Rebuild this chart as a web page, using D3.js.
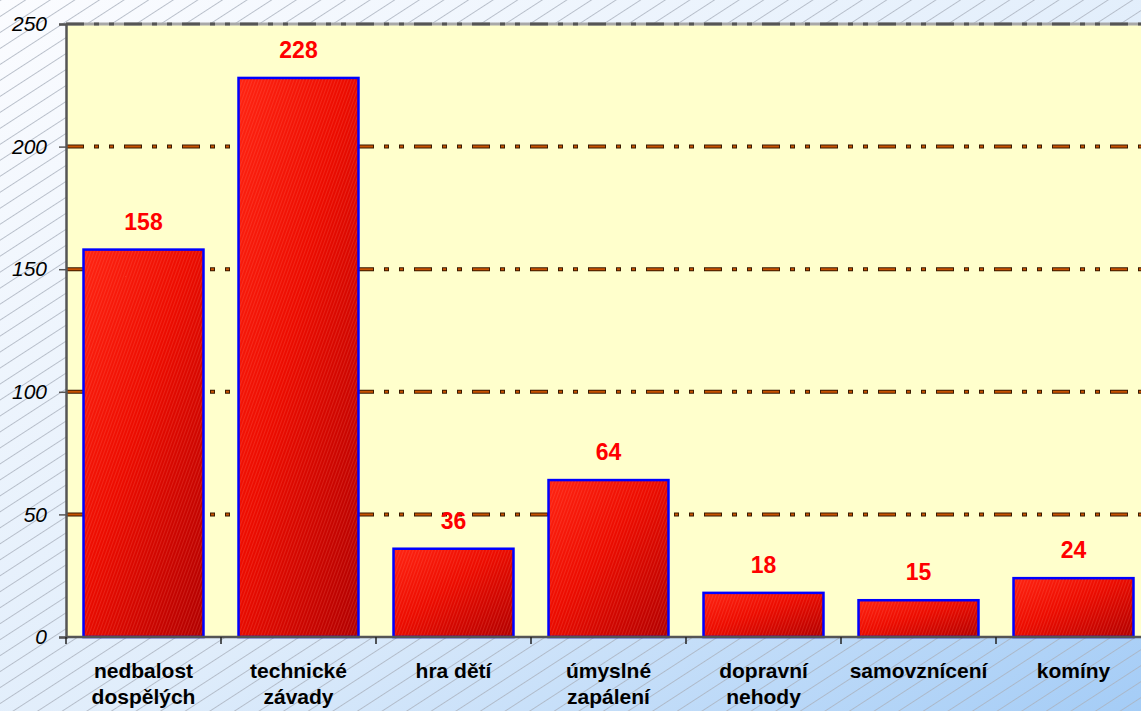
<!DOCTYPE html>
<html>
<head>
<meta charset="utf-8">
<script src="https://cdn.jsdelivr.net/npm/d3@7"></script>
<style>
  body { margin: 0; overflow: hidden; }
  svg { display: block; }
</style>
</head>
<body>
<div id="chart"></div>
<script>
// categories, split over two lines like in the original
var categories = [
  ['nedbalost', 'dospělých'],
  ['technické', 'závady'],
  ['hra dětí'],
  ['úmyslné', 'zapálení'],
  ['dopravní', 'nehody'],
  ['samovznícení'],
  ['komíny']
];
var values = [158, 228, 36, 64, 18, 15, 24];
var yTicks = [0, 50, 100, 150, 200, 250];

var W = 1141, H = 711;
var margin = { top: 24, left: 66 },
  plotW = 1085,
  plotH = 613;

var svg = d3.select('#chart').append('svg')
  .attr('width', W)
  .attr('height', H);

var defs = svg.append('defs');

// page background: soft diagonal gradient + thin hatching
var bg = defs.append('linearGradient').attr('id', 'bgGrad')
  .attr('x1', 0).attr('y1', 0).attr('x2', 1).attr('y2', 1);
bg.append('stop').attr('offset', '0%').attr('stop-color', '#fbfcff');
bg.append('stop').attr('offset', '55%').attr('stop-color', '#e0edfb');
bg.append('stop').attr('offset', '100%').attr('stop-color', '#a4ccf6');

var hatch = defs.append('pattern').attr('id', 'hatch')
  .attr('patternUnits', 'userSpaceOnUse')
  .attr('width', 10).attr('height', 13.4)
  .attr('patternTransform', 'rotate(-33)');
hatch.append('line')
  .attr('x1', 0).attr('x2', 10).attr('y1', 0.5).attr('y2', 0.5)
  .attr('stroke', '#a9b1be').attr('stroke-width', 0.8);

// bar fill: red, darker toward bottom right, with fine streaks
var barGrad = defs.append('linearGradient').attr('id', 'barGrad')
  .attr('x1', 0).attr('y1', 0).attr('x2', 1).attr('y2', 1);
barGrad.append('stop').attr('offset', '0%').attr('stop-color', '#ff2412');
barGrad.append('stop').attr('offset', '45%').attr('stop-color', '#ec0c00');
barGrad.append('stop').attr('offset', '100%').attr('stop-color', '#b00000');

var streaks = defs.append('pattern').attr('id', 'streaks')
  .attr('patternUnits', 'userSpaceOnUse')
  .attr('width', 3).attr('height', 6)
  .attr('patternTransform', 'rotate(20)');
streaks.append('line')
  .attr('x1', 0.5).attr('x2', 0.5).attr('y1', 0).attr('y2', 6)
  .attr('stroke', '#ff8070').attr('stroke-opacity', 0.28).attr('stroke-width', 0.8);

svg.append('rect').attr('width', W).attr('height', H).attr('fill', 'url(#bgGrad)');
svg.append('rect').attr('width', W).attr('height', H).attr('fill', 'url(#hatch)');

// scales
var xScale = d3.scaleBand()
  .domain(d3.range(categories.length))
  .range([margin.left, margin.left + plotW])
  .paddingInner(0.226)
  .paddingOuter(0.113);

var yScale = d3.scaleLinear()
  .domain([0, 250])
  .range([margin.top + plotH, margin.top]);

// plot area
svg.append('rect')
  .attr('x', margin.left).attr('y', margin.top)
  .attr('width', plotW).attr('height', plotH)
  .attr('fill', '#ffffcc');

// gridlines, dash-dot-dot
var gridVals = yTicks.filter(function (d) { return d > 0 && d < 250; });
var grid = svg.append('g');
grid.selectAll('line.out')
  .data(gridVals)
  .enter().append('line')
  .attr('x1', margin.left).attr('x2', margin.left + plotW)
  .attr('y1', function (d) { return yScale(d); })
  .attr('y2', function (d) { return yScale(d); })
  .attr('stroke', '#3a1a00')
  .attr('stroke-width', 4)
  .attr('stroke-dasharray', '18 10 5 10 5 10');
grid.selectAll('line.in')
  .data(gridVals)
  .enter().append('line')
  .attr('x1', margin.left).attr('x2', margin.left + plotW)
  .attr('y1', function (d) { return yScale(d); })
  .attr('y2', function (d) { return yScale(d); })
  .attr('stroke', '#c85200')
  .attr('stroke-width', 2)
  .attr('stroke-dasharray', '16 12 3 12 3 12')
  .attr('stroke-dashoffset', -1);

// top border at 250: grey line with darker dashes
svg.append('line')
  .attr('x1', margin.left).attr('x2', margin.left + plotW)
  .attr('y1', yScale(250)).attr('y2', yScale(250))
  .attr('stroke', '#a8a8a8').attr('stroke-width', 3);
svg.append('line')
  .attr('x1', margin.left).attr('x2', margin.left + plotW)
  .attr('y1', yScale(250)).attr('y2', yScale(250))
  .attr('stroke', '#555').attr('stroke-width', 3)
  .attr('stroke-dasharray', '18 10 5 10 5 10');

// bars
var bars = svg.append('g');
bars.selectAll('rect.bar')
  .data(values)
  .enter().append('rect')
  .attr('x', function (d, i) { return xScale(i); })
  .attr('y', function (d) { return yScale(d); })
  .attr('width', xScale.bandwidth())
  .attr('height', function (d) { return yScale(0) - yScale(d); })
  .attr('fill', 'url(#barGrad)');
bars.selectAll('rect.tex')
  .data(values)
  .enter().append('rect')
  .attr('x', function (d, i) { return xScale(i); })
  .attr('y', function (d) { return yScale(d); })
  .attr('width', xScale.bandwidth())
  .attr('height', function (d) { return yScale(0) - yScale(d); })
  .attr('fill', 'url(#streaks)')
  .attr('stroke', '#0000ff')
  .attr('stroke-width', 2.5);

// value labels
svg.append('g').selectAll('text')
  .data(values)
  .enter().append('text')
  .attr('x', function (d, i) { return xScale(i) + xScale.bandwidth() / 2; })
  .attr('y', function (d) { return yScale(d) - 20; })
  .attr('text-anchor', 'middle')
  .style('font-family', 'Liberation Sans, Arial, sans-serif')
  .style('font-weight', 'bold')
  .style('font-size', '23px')
  .style('fill', '#ff0000')
  .text(function (d) { return d; });

// y axis
var yAxis = svg.append('g')
  .attr('transform', 'translate(' + margin.left + ',0)')
  .call(d3.axisLeft(yScale).tickValues(yTicks).tickSize(7).tickPadding(12));
yAxis.select('.domain').attr('stroke', '#555').attr('stroke-width', 2.5);
yAxis.selectAll('.tick line').attr('stroke', '#555').attr('stroke-width', 1.5);
yAxis.selectAll('.tick text')
  .style('font-family', 'Liberation Sans, Arial, sans-serif')
  .style('font-style', 'italic')
  .style('font-size', '21px')
  .style('fill', '#000');

// x axis baseline + category boundary ticks
var base = yScale(0);
svg.append('line')
  .attr('x1', margin.left).attr('x2', margin.left + plotW)
  .attr('y1', base).attr('y2', base)
  .attr('stroke', '#555').attr('stroke-width', 2.5);
var step = xScale.step();
svg.append('g').selectAll('line')
  .data(d3.range(categories.length + 1))
  .enter().append('line')
  .attr('x1', function (i) { return margin.left + i * step; })
  .attr('x2', function (i) { return margin.left + i * step; })
  .attr('y1', base).attr('y2', base + 7)
  .attr('stroke', '#222').attr('stroke-width', 1.5);

// category labels
var labels = svg.append('g').selectAll('text')
  .data(categories)
  .enter().append('text')
  .attr('x', function (d, i) { return xScale(i) + xScale.bandwidth() / 2; })
  .attr('y', 678)
  .attr('text-anchor', 'middle')
  .style('font-family', 'Liberation Sans, Arial, sans-serif')
  .style('font-weight', 'bold')
  .style('font-size', '21px')
  .style('fill', '#000');
labels.selectAll('tspan')
  .data(function (d) { return d; })
  .enter().append('tspan')
  .attr('x', function () { return d3.select(this.parentNode).attr('x'); })
  .attr('dy', function (d, i) { return i === 0 ? 0 : 26; })
  .text(function (d) { return d; });
</script>
</body>
</html>
